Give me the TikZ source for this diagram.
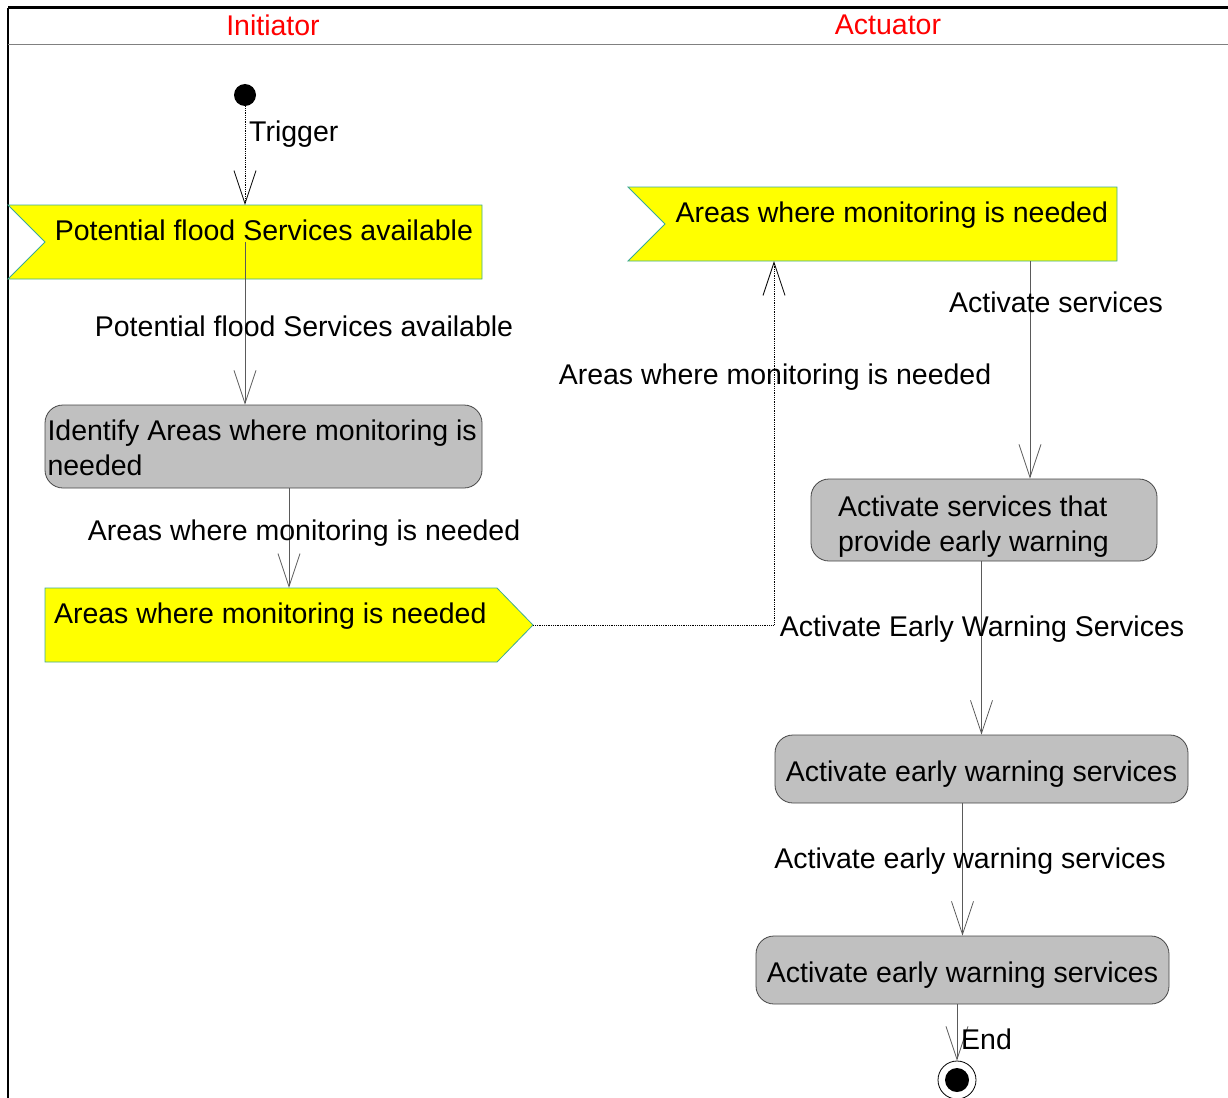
\documentclass[tikz,border=0pt]{standalone}
\usepackage{fontspec}
\setmainfont{Liberation Sans}
\usetikzlibrary{arrows.meta}
\definecolor{sigfill}{RGB}{255,255,0}
\definecolor{sigedge}{RGB}{60,170,150}
\definecolor{actfill}{RGB}{192,192,192}
\definecolor{actedge}{RGB}{70,70,70}
\definecolor{flowgray}{RGB}{90,90,90}
\newcommand{\umlfont}{\fontsize{28.5}{35}\selectfont}
\newcommand{\plainspaces}{\spaceskip=\fontdimen2\font\xspaceskip=\fontdimen2\font\relax}% rigid font word space inside text width
\newcommand{\recvsig}[5]{% x, y, width, name, text   (receive signal, 74 high, notch 37 deep on the left)
  \filldraw[sigline] ({#1-#3/2},{#2-37}) -- ({#1+#3/2},{#2-37}) -- ({#1+#3/2},{#2+37})
    -- ({#1-#3/2},{#2+37}) -- ({#1-#3/2+37},#2) -- cycle;
  \node[sigtext,align=right,minimum width=#3pt,text width=#3pt-18pt] (#4) at (#1,#2) {\plainspaces #5};}
\newcommand{\sendsig}[5]{% x, y, width, name, text   (send signal, point 36 long on the right)
  \filldraw[sigline] ({#1-#3/2},{#2-37}) -- ({#1+#3/2-36},{#2-37}) -- ({#1+#3/2},#2)
    -- ({#1+#3/2-36},{#2+37}) -- ({#1-#3/2},{#2+37}) -- cycle;
  \node[sigtext,align=left,minimum width=#3pt,text width=#3pt-18pt] (#4) at (#1,#2) {\plainspaces #5};}

\begin{document}
\begin{tikzpicture}[x=1pt,y=-1pt,>={Straight Barb[length=33pt,width=22pt]},
  every node/.style={font=\umlfont},
  sigline/.style={fill=sigfill,draw=sigedge,line width=0.8pt},
  sigtext/.style={inner xsep=9pt,inner ysep=0pt,minimum height=74pt,text height=21pt,text depth=25pt},
  action/.style={draw=actedge,fill=actfill,rounded corners=18pt,line width=0.8pt,inner sep=5pt},
  flow/.style={draw=flowgray,line width=0.8pt},
  flowdot/.style={draw=black,densely dotted,line width=0.8pt},
  lbl/.style={inner sep=0pt},
  lanehead/.style={text=red,inner sep=0pt}]
  \useasboundingbox (0,0) rectangle (1228,1097);
  % swimlane frame
  \draw[line width=3pt] (8,8) -- (1232,8);
  \draw[line width=2.5pt] (8,8) -- (8,1100);
  \draw[gray,line width=1pt] (8,45) -- (1232,45);
  \node[lanehead] (initLane) at (273,25) {Initiator};
  \node[lanehead] (actLane) at (888,25) {Actuator};
  % initiator lane
  \node[circle,fill=black,minimum size=22pt,inner sep=0] (start) at (245,95) {};
  \recvsig{245}{242}{474}{recvFlood}{Potential flood Services available}
  \node[action,minimum width=437pt,minimum height=83pt,inner xsep=2.5pt,text width=432pt,text height=21pt,text depth=34pt,align=left] (identify) at (263.5,446.5) {\plainspaces Identify Areas where monitoring is\\needed};
  \sendsig{289}{625}{488}{sendAreas}{Areas where monitoring is needed}
  % actuator lane
  \recvsig{872.5}{224}{489}{recvAreas}{Areas where monitoring is needed}
  \node[action,minimum width=346pt,minimum height=82pt,text width=292pt,text height=21pt,text depth=29pt,align=left] (warnsvc) at (984,520) {\plainspaces Activate services that\\provide early warning};
  \node[action,minimum width=413pt,minimum height=68pt,text height=26pt,text depth=1pt] (earlyA) at (981.5,769) {Activate early warning services};
  \node[action,minimum width=413pt,minimum height=68pt,text height=26pt,text depth=1pt] (earlyB) at (962.5,970) {Activate early warning services};
  \node[circle,draw=black,line width=0.8pt,minimum size=38pt,inner sep=0] (stop) at (957,1080) {};
  \node[circle,fill=black,minimum size=24pt,inner sep=0] (stopDot) at (stop.center) {};
  % flows
  \coordinate (bend) at (774,625);
  \coordinate (tapA) at (1030,0);
  \draw[flowdot,->] (start) -- (recvFlood.north);
  \draw[flow,->] (recvFlood.center) -- (recvFlood.center |- identify.north);
  \draw[flow,->] (identify.south -| sendAreas.north) -- (sendAreas.north);
  \draw[flowdot,->] (sendAreas.east) -- (bend) -- (bend |- recvAreas.south);
  \draw[flow,->] (recvAreas.south -| tapA) -- (warnsvc.north -| tapA);
  \draw[flow,->] (warnsvc.south -| earlyA.north) -- (earlyA.north);
  \draw[flow,->] (earlyA.south -| earlyB.north) -- (earlyB.north);
  \draw[flow,->] (earlyB.south -| stop.north) -- (stop.north);
  % flow labels
  \node[lbl,anchor=west] (trigLbl) at (249,134) {Trigger};
  \node[lbl] (floodLbl) at (304,326) {Potential flood Services available};
  \node[lbl] (areasLblA) at (304,533) {Areas where monitoring is needed};
  \node[lbl] (areasLblB) at (775,377) {Areas where monitoring is needed};
  \node[lbl] (actLbl) at (1056,302) {Activate services};
  \node[lbl] (ewsLbl) at (982,629) {Activate Early Warning Services};
  \node[lbl] (earlyLbl) at (970,861) {Activate early warning services};
  \node[lbl,anchor=west] (endLbl) at (961,1039) {End};
\end{tikzpicture}
\end{document}
